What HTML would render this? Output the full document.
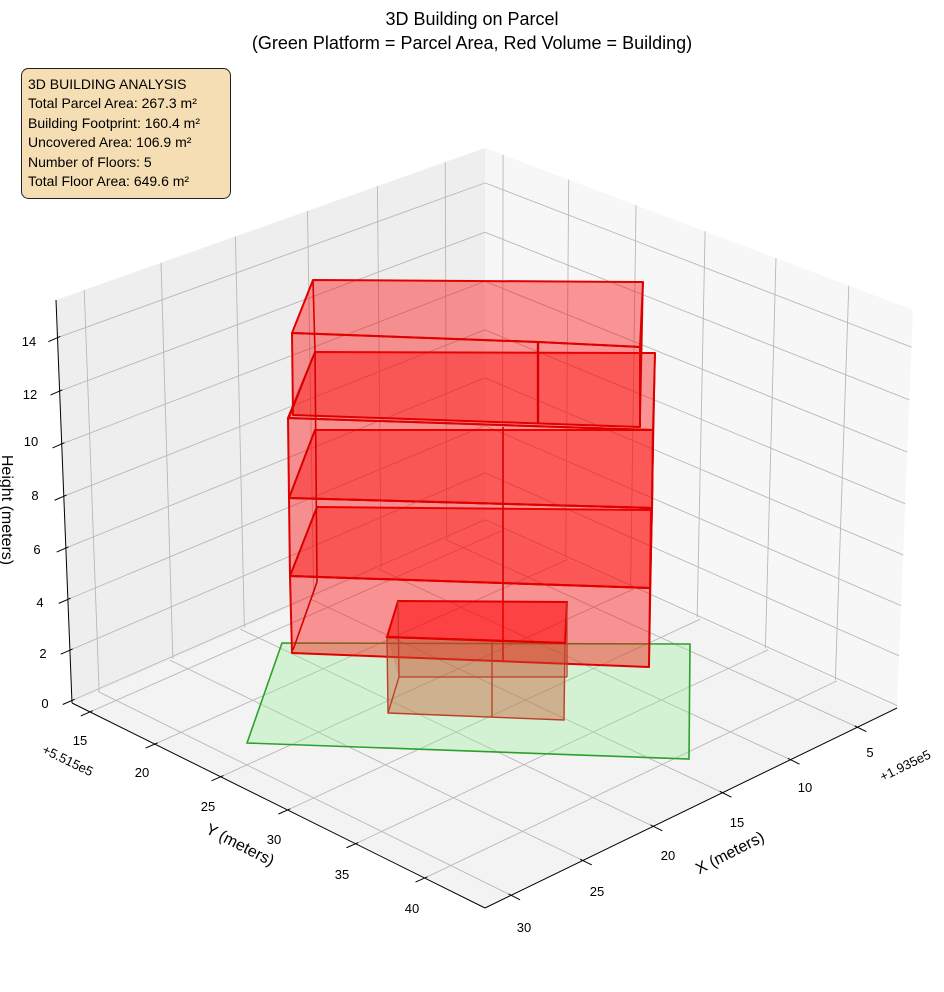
<!DOCTYPE html>
<html><head><meta charset="utf-8"><style>
html,body{margin:0;padding:0;background:#fff;}
svg{display:block;font-family:"Liberation Sans","Noto Sans CJK JP",sans-serif;}
</style></head><body>
<svg id="s" width="944" height="992" viewBox="0 0 944 992" xmlns="http://www.w3.org/2000/svg">
<rect width="944" height="992" fill="#fff"/>
<g id="panes">
<polygon points="72,703 485,522 485,148 56,300" fill="#eeeeee"/>
<polygon points="485,522 897,708 913,310 485,148" fill="#f7f7f7"/>
<polygon points="72,703 485,908 897,708 485,522" fill="#f3f3f3"/>
</g>
<g id="grid" stroke="#b8b8b8" stroke-width="0.9" fill="none"></g>
<g id="axes" stroke="#000" stroke-width="1" fill="none">
<line x1="56" y1="300" x2="72" y2="703"/>
<line x1="72" y1="703" x2="485" y2="908"/>
<line x1="485" y1="908" x2="897" y2="708"/>
</g>
<g id="ticks" stroke="#000" stroke-width="1"></g>

<!-- parcel -->
<polygon points="247,743 282,643 690,644 689,759" fill="rgb(144,238,144)" fill-opacity="0.32" stroke="#2ca02c" stroke-width="1.6"/>

<!-- building -->
<g stroke="rgb(225,0,0)" stroke-width="2" stroke-linejoin="round" fill="rgb(255,0,0)" fill-opacity="0.4">
<polygon points="292,653 649,667 650,588 290,576"/>
<polygon points="290,576 650,588 651,510 317,507" />
<polygon points="290,576 650,588 652,508 289,498"/>
<polygon points="289,498 652,508 653,430 315,430"/>
<polygon points="289,498 652,508 653,430 288,418"/>
<polygon points="288,418 653,430 655,353 315,352"/>
<polygon points="293,415 640,427 640,347 538,342 292,333"/>
<polygon points="292,333 538,342 640,347 643,282 313,280"/>
</g>
<g stroke="rgb(215,0,0)" stroke-width="1.6" fill="none">
<line x1="503" y1="427" x2="503" y2="662"/>
<line x1="538" y1="342" x2="538" y2="423" stroke-width="2.4"/>
<line x1="313" y1="280" x2="315" y2="352"/>
<line x1="315" y1="352" x2="317" y2="582"/>
<line x1="317" y1="582" x2="293" y2="650"/>
<line x1="643" y1="282" x2="640" y2="427"/>
<line x1="655" y1="353" x2="649" y2="667"/>
<line x1="289" y1="418" x2="315" y2="352"/>
<line x1="289" y1="498" x2="315" y2="430"/>
<line x1="290" y1="576" x2="317" y2="507"/>
</g>
<!-- small box -->
<polygon points="388,713 564,720 565,643 387,637" fill="rgb(200,80,40)" fill-opacity="0.4" stroke="rgb(190,60,40)" stroke-width="1.4"/>
<polygon points="387,637 565,643 567,677 399,677" fill="rgb(200,60,40)" fill-opacity="0.18" stroke="none"/>
<polygon points="387,637 565,643 567,602 398,601" fill="rgb(255,0,0)" fill-opacity="0.55" stroke="rgb(225,0,0)" stroke-width="2"/>
<g stroke="rgb(190,60,40)" stroke-width="1.3" fill="none">
<line x1="398" y1="601" x2="399" y2="677"/>
<line x1="399" y1="677" x2="567" y2="677"/>
<line x1="567" y1="602" x2="567" y2="677"/>
<line x1="399" y1="677" x2="388" y2="713"/>
<line x1="492" y1="642" x2="492" y2="717"/>
</g>
<line x1="387" y1="637" x2="565" y2="643" stroke="rgb(225,0,0)" stroke-width="2.2"/>

<!-- labels -->
<g font-size="13" fill="#000">
<text x="45" y="708" text-anchor="middle">0</text>
<text x="43" y="658" text-anchor="middle">2</text>
<text x="40" y="607" text-anchor="middle">4</text>
<text x="37" y="554" text-anchor="middle">6</text>
<text x="35" y="500" text-anchor="middle">8</text>
<text x="31" y="446" text-anchor="middle">10</text>
<text x="30" y="399" text-anchor="middle">12</text>
<text x="29" y="346" text-anchor="middle">14</text>

<text x="80" y="745" text-anchor="middle">15</text>
<text x="142" y="777" text-anchor="middle">20</text>
<text x="208" y="811" text-anchor="middle">25</text>
<text x="274" y="844" text-anchor="middle">30</text>
<text x="342" y="879" text-anchor="middle">35</text>
<text x="412" y="913" text-anchor="middle">40</text>

<text x="870" y="757" text-anchor="middle">5</text>
<text x="805" y="792" text-anchor="middle">10</text>
<text x="737" y="827" text-anchor="middle">15</text>
<text x="668" y="860" text-anchor="middle">20</text>
<text x="597" y="896" text-anchor="middle">25</text>
<text x="524" y="932" text-anchor="middle">30</text>

<text x="68" y="765" text-anchor="middle" transform="rotate(26 68 760)">+5.515e5</text>
<text x="905" y="770" text-anchor="middle" transform="rotate(-26 905 765)">+1.935e5</text>
</g>
<g font-size="16" fill="#000">
<text x="240" y="850" text-anchor="middle" transform="rotate(27 240 845)">Y (meters)</text>
<text x="730" y="858" text-anchor="middle" transform="rotate(-27 730 853)">X (meters)</text>
<text x="2" y="510" text-anchor="middle" transform="rotate(90 2 510)">Height (meters)</text>
</g>
<g font-size="18" fill="#000" text-anchor="middle">
<text x="472" y="25">3D Building on Parcel</text>
<text x="472" y="49">(Green Platform = Parcel Area, Red Volume = Building)</text>
</g>
<rect x="21.5" y="68.5" width="209" height="130" rx="7" fill="#f5deb3" stroke="#222" stroke-width="1"/>
<g font-size="14" fill="#000">
<text x="28" y="89">3D BUILDING ANALYSIS</text>
<text x="28" y="108">Total Parcel Area: 267.3 m²</text>
<text x="28" y="128">Building Footprint: 160.4 m²</text>
<text x="28" y="147">Uncovered Area: 106.9 m²</text>
<text x="28" y="167">Number of Floors: 5</text>
<text x="28" y="186">Total Floor Area: 649.6 m²</text>
</g>
</svg>
<script>
(function(){
function H(p0,p1,p2,p3){
 var x0=p0[0],y0=p0[1],x1=p1[0],y1=p1[1],x2=p2[0],y2=p2[1],x3=p3[0],y3=p3[1];
 var sx=x0-x1+x2-x3, sy=y0-y1+y2-y3,a,b,c,d,e,f,g,h;
 var dx1=x1-x2,dx2=x3-x2,dy1=y1-y2,dy2=y3-y2,den=dx1*dy2-dx2*dy1;
 g=(sx*dy2-dx2*sy)/den; h=(dx1*sy-sx*dy1)/den;
 a=x1-x0+g*x1; b=x3-x0+h*x3; c=x0; d=y1-y0+g*y1; e=y3-y0+h*y3; f=y0;
 return function(u,v){var w=g*u+h*v+1;return [(a*u+b*v+c)/w,(d*u+e*v+f)/w];};
}
var L=[72,703],B=[485,522],R=[897,708],F=[485,908],Lt=[56,300],Bt=[485,148],Rt=[913,310];
var xmin=2,xmax=31.8,ymin=13.6,ymax=44.3,zmin=-0.1,zmax=15.4;
var RX=xmax-xmin,RY=ymax-ymin,RZ=zmax-zmin;
var fl=H(L,F,R,B), lw=H(L,B,Bt,Lt), rw=H(B,R,Rt,Bt);
var ns="http://www.w3.org/2000/svg", grid=document.getElementById("grid"), tk=document.getElementById("ticks");
function ln(g,p,q){var l=document.createElementNS(ns,"line");l.setAttribute("x1",p[0]);l.setAttribute("y1",p[1]);l.setAttribute("x2",q[0]);l.setAttribute("y2",q[1]);g.appendChild(l);}
var x,y,z,u,v,p;
for(x=5;x<=30;x+=5){v=(xmax-x)/RX; ln(grid,fl(0,v),fl(1,v)); ln(grid,lw(v,0),lw(v,1));
 p=fl(1,v); ln(tk,[p[0]-3*0.896,p[1]-3*0.445],[p[0]+10*0.896,p[1]+10*0.445]);}
for(y=15;y<=40;y+=5){u=(y-ymin)/RY; ln(grid,fl(u,0),fl(u,1)); ln(grid,rw(u,0),rw(u,1));
 p=fl(u,0); ln(tk,[p[0]+3*0.916,p[1]-3*0.401],[p[0]-10*0.916,p[1]+10*0.401]);}
for(z=0;z<=14;z+=2){v=(z-zmin)/RZ; ln(grid,lw(0,v),lw(1,v)); ln(grid,rw(0,v),rw(1,v));
 p=lw(0,v); ln(tk,[p[0]+3*0.916,p[1]-3*0.401],[p[0]-10*0.916,p[1]+10*0.401]);}
})();
</script>
</body></html>
